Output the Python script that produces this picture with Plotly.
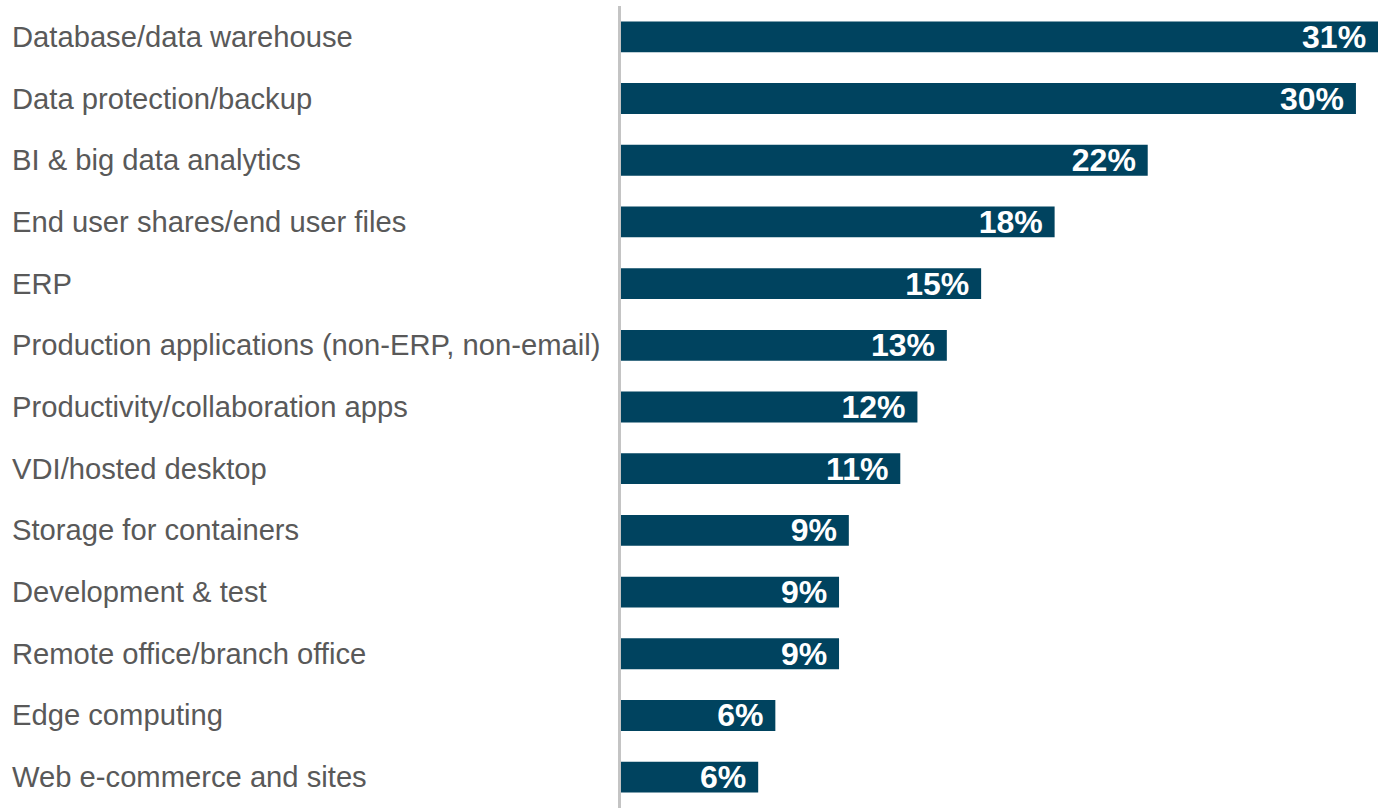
import plotly.graph_objects as go

categories = [
    "Database/data warehouse",
    "Data protection/backup",
    "BI & big data analytics",
    "End user shares/end user files",
    "ERP",
    "Production applications (non-ERP, non-email)",
    "Productivity/collaboration apps",
    "VDI/hosted desktop",
    "Storage for containers",
    "Development & test",
    "Remote office/branch office",
    "Edge computing",
    "Web e-commerce and sites",
]
# bar lengths (percent)
values = [30.9, 30.0, 21.5, 17.7, 14.7, 13.3, 12.1, 11.4, 9.3, 8.9, 8.9, 6.3, 5.6]
labels = ["31%", "30%", "22%", "18%", "15%", "13%", "12%", "11%", "9%", "9%", "9%", "6%", "6%"]

W, H = 1378, 808
L, R, T, B = 621, 0, 6, 0
PLOT_W = W - L - R

fig = go.Figure(
    go.Bar(
        y=categories,
        x=values,
        orientation="h",
        marker=dict(color="#00435F", line=dict(width=0)),
        text=[lab + "\u00a0" for lab in labels],
        textposition="inside",
        insidetextanchor="end",
        constraintext="none",
        textfont=dict(family="Liberation Sans Narrow, Arial Narrow, Liberation Sans, Arial",
                      size=32, color="white", weight="bold"),
        hoverinfo="skip",
    )
)

annotations = [
    dict(
        x=-(L - 10) / PLOT_W, xref="paper", xanchor="left",
        y=c, yref="y", yanchor="middle",
        text=c, showarrow=False,
        font=dict(family="Liberation Sans, Arial", size=29.2, color="#595959"),
    )
    for c in categories
]

fig.update_layout(
    width=W, height=H,
    margin=dict(l=L, r=R, t=T, b=B, pad=0),
    paper_bgcolor="white", plot_bgcolor="white",
    bargap=0.5,
    showlegend=False,
    annotations=annotations,
    xaxis=dict(range=[0, values[0]], visible=False, fixedrange=True),
    yaxis=dict(
        autorange="reversed",
        showticklabels=False,
        showgrid=False, zeroline=False,
        showline=True, linecolor="#c4c4c4", linewidth=3,
        ticks="", fixedrange=True,
    ),
)

fig.write_html(
    "out.html",
    config={"displayModeBar": False, "staticPlot": True},
    post_script="document.body.style.margin='0';document.body.style.overflow='hidden';",
)
